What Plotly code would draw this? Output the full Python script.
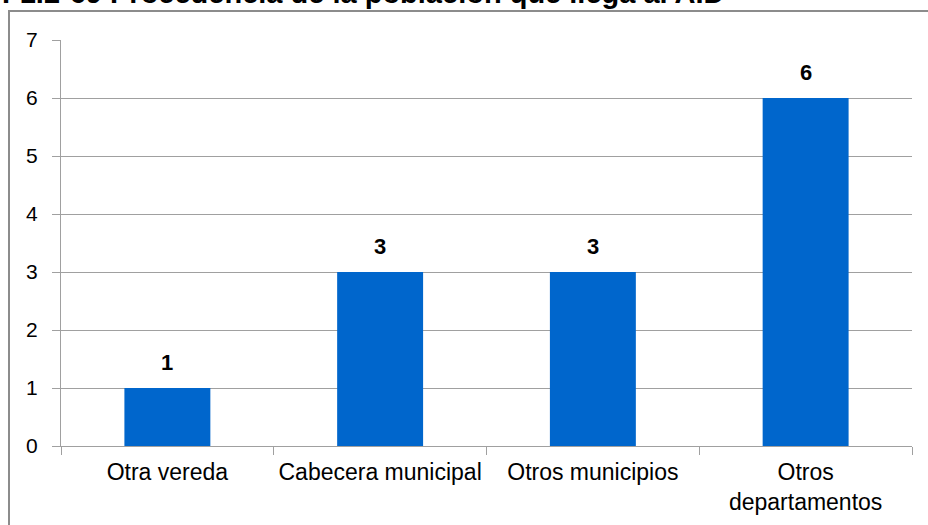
import plotly.graph_objects as go

# Origen de la población que llega al AID
categorias = ["Otra vereda", "Cabecera municipal", "Otros municipios", "Otros<br>departamentos"]
valores = [1, 3, 3, 6]
ticks_y = [0, 1, 2, 3, 4, 5, 6, 7]
titulo = "F1.2-69 Procedencia de la población que llega al AID"

FONT = "Liberation Sans, Arial, sans-serif"
GRIS = "#A0A0A0"

fig = go.Figure(
    go.Bar(
        x=categorias,
        y=valores,
        marker=dict(color="#0066CC", line=dict(width=0)),
        hoverinfo="x+y",
    )
)

# Etiquetas de valor sobre cada barra
for c, v in zip(categorias, valores):
    fig.add_annotation(
        x=c, y=v, xref="x", yref="y",
        text=f"<b>{v}</b>", showarrow=False,
        yanchor="middle", yshift=26,
        font=dict(family=FONT, size=22, color="#000000"),
    )

# Título (recortado en el borde superior de la página)
fig.add_annotation(
    x=-0.0717, y=1.072, xref="paper", yref="paper",
    text=f"<b>{titulo}</b>", showarrow=False,
    xanchor="left", yanchor="bottom",
    font=dict(family=FONT, size=29, color="#000000"),
)

# Marco del gráfico
fig.add_shape(
    type="rect", xref="paper", yref="paper",
    x0=-0.0611, x1=1.2, y0=-0.4, y1=1.0714,
    line=dict(color="#8C8C8C", width=2), fillcolor="rgba(0,0,0,0)",
    layer="below",
)

fig.update_layout(
    width=928, height=525,
    margin=dict(l=61, r=16, t=40, b=79),
    paper_bgcolor="white", plot_bgcolor="white",
    bargap=0.596,
    showlegend=False,
    font=dict(family=FONT, color="#000000"),
)

fig.update_xaxes(
    type="category",
    tickson="boundaries",
    ticks="outside", ticklen=8, tickcolor=GRIS, tickwidth=1,
    showline=True, linecolor=GRIS, linewidth=1,
    showgrid=False,
    tickfont=dict(family=FONT, size=23, color="#000000"),
    ticklabelstandoff=5,
    automargin=False,
)

fig.update_yaxes(
    range=[0, 7],
    tickvals=ticks_y,
    ticks="outside", ticklen=8, tickcolor=GRIS, tickwidth=1,
    showline=True, linecolor=GRIS, linewidth=1,
    showgrid=True, gridcolor=GRIS, gridwidth=1,
    zeroline=False,
    tickfont=dict(family=FONT, size=21, color="#000000"),
    ticklabelstandoff=10,
    automargin=False,
)

fig.write_html("out.html")
